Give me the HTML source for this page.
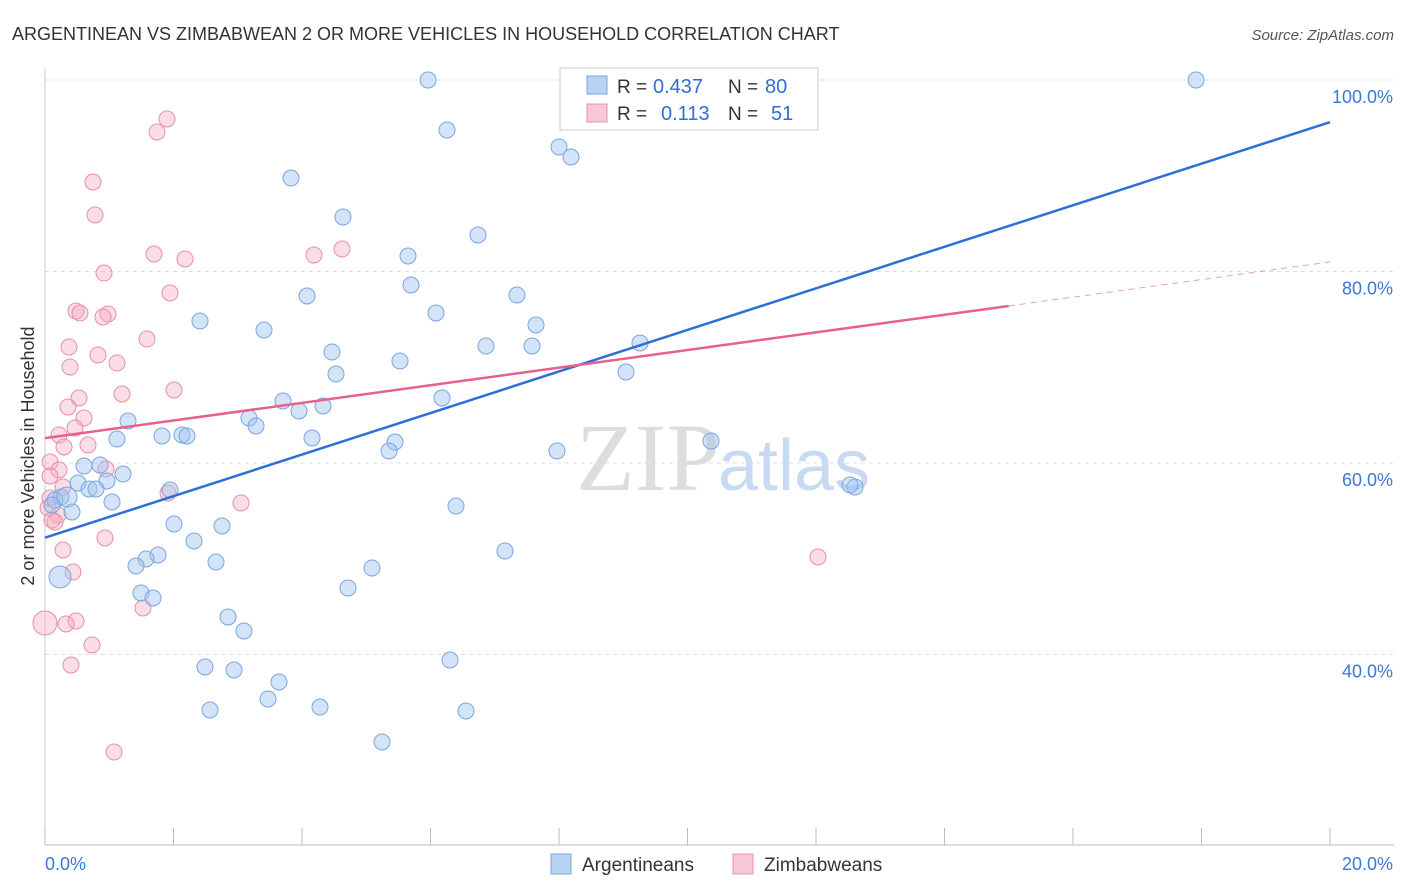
<!DOCTYPE html>
<html><head><meta charset="utf-8">
<style>
body{margin:0;background:#fff;font-family:"Liberation Sans",sans-serif;}
svg{display:block}
</style></head>
<body>
<svg id="chart" width="1406" height="892">
<text x="12" y="40" font-size="18" fill="#333">ARGENTINEAN VS ZIMBABWEAN 2 OR MORE VEHICLES IN HOUSEHOLD CORRELATION CHART</text>
<text x="1394" y="40" font-size="15" fill="#555" font-style="italic" text-anchor="end">Source: ZipAtlas.com</text>
<g id="grid"></g>
<text x="720" y="490" font-size="96" font-family="Liberation Serif,serif" fill="#ddd" text-anchor="end">ZIP</text>
<text x="718" y="490" font-size="72" fill="#c8daf2">atlas</text>
<g id="pts"></g>
<g id="lines"></g>
<text x="34" y="456" font-size="18" fill="#333" text-anchor="middle" transform="rotate(-90 34 456)">2 or more Vehicles in Household</text>
<g>
<rect x="560" y="68" width="258" height="62" fill="#fff" stroke="#ccc"/>
<rect x="587" y="76" width="20" height="18" fill="#b8d2f4" stroke="#7aa6e0"/>
<rect x="587" y="104" width="20" height="18" fill="#f8c8d6" stroke="#e890a8"/>
<text x="617" y="93" font-size="19" fill="#333">R =</text>
<text x="653" y="93" font-size="20" fill="#2e6fd4">0.437</text>
<text x="728" y="93" font-size="19" fill="#333">N =</text>
<text x="765" y="93" font-size="20" fill="#2e6fd4">80</text>
<text x="617" y="120" font-size="19" fill="#333">R =</text>
<text x="661" y="120" font-size="20" fill="#2e6fd4">0.113</text>
<text x="728" y="120" font-size="19" fill="#333">N =</text>
<text x="771" y="120" font-size="20" fill="#2e6fd4">51</text>
</g>
<g>
<rect x="551" y="854" width="20" height="20" fill="#b8d2f4" stroke="#7aa6e0"/>
<text x="582" y="871" font-size="19" fill="#333">Argentineans</text>
<rect x="733" y="854" width="20" height="20" fill="#f8c8d6" stroke="#e890a8"/>
<text x="764" y="871" font-size="19" fill="#333">Zimbabweans</text>
</g>
</svg>
<script>
const yTicks=[40,60,80,100];
const xTickLabels=["0.0%","20.0%"];
const blueX=[428,1196,447,559,571,291,343,478,408,411,307,517,200,436,536,264,486,532,640,332,400,336,626,442,283,299,323,128,249,256,117,162,182,187,312,395,389,711,557,84,100,123,107,78,89,96,61,55,52,112,170,72,456,174,222,194,505,158,146,136,216,372,60,348,141,153,228,244,450,205,234,279,268,210,320,466,382,855,850,67].map(p=>(p-45)/64.25);
const blueY=[80,80,130,147,157,178,217,235,256,285,296,295,321,313,325,330,346,346,343,352,361,374,372,398,401,411,406,421,418,426,439,436,435,436,438,442,451,441,451,466,465,474,481,483,489,489,497,500,505,502,490,512,506,524,526,541,551,555,559,566,562,568,577,588,593,598,617,631,660,667,670,682,699,710,707,711,742,487,485,497].map(p=>100-(p-80)/9.575);
const pinkX=[167,157,93,95,154,185,104,314,342,170,76,80,108,103,147,69,98,117,70,174,122,79,68,84,75,59,88,64,50,59,106,50,63,168,241,48,58,52,55,105,63,818,73,143,76,66,45,92,71,114,50].map(p=>(p-45)/64.25);
const pinkY=[119,132,182,215,254,259,273,255,249,293,311,313,314,317,339,347,355,363,367,390,394,398,407,418,428,435,445,447,462,470,469,476,487,493,503,508,515,520,522,538,550,557,572,608,621,624,623,645,665,752,498].map(p=>100-(p-80)/9.575);
const blueLine=[52.2,95.6];
const pinkLine=[62.6,81.0];
const X=v=>45+v*64.25, Y=v=>80+(100-v)*9.575;
const NS="http://www.w3.org/2000/svg";
function mk(t,a,p){const e=document.createElementNS(NS,t);for(const k in a)e.setAttribute(k,a[k]);p.appendChild(e);return e;}
const g=document.getElementById('grid');
yTicks.forEach(v=>{
 const l=mk('line',{x1:45,x2:1394,y1:Y(v),y2:Y(v),stroke:'#ddd','stroke-dasharray':'4,4'},g);
 
 
 const t=mk('text',{x:1393,y:Y(v)+23,'font-size':18,fill:'#3a78d8','text-anchor':'end'},g);
 t.textContent=v.toFixed(1)+'%';
 
 
});
mk('line',{x1:45,x2:1394,y1:845,y2:845,stroke:'#bbb'},g);
mk('line',{x1:45,x2:45,y1:68,y2:845,stroke:'#ccc'},g);
for(let i=0;i<=10;i++){mk('line',{x1:X(i*2),x2:X(i*2),y1:828,y2:845,stroke:'#bbb'},g);}
const xl1=mk('text',{x:45,y:870,'font-size':18,fill:'#3a78d8'},g);xl1.textContent=xTickLabels[0];


const xl2=mk('text',{x:1393,y:870,'font-size':18,fill:'#3a78d8','text-anchor':'end'},g);xl2.textContent=xTickLabels[1];


const pg=document.getElementById('pts');
pinkX.forEach((x,i)=>{const c=mk('circle',{cx:X(x),cy:Y(pinkY[i]),r:i==46?12:8,fill:'rgba(245,170,195,0.4)',stroke:'#e890a8','stroke-width':1},pg);
 
 });
blueX.forEach((x,i)=>{const c=mk('circle',{cx:X(x),cy:Y(blueY[i]),r:i==62?11:(i==79?10:8),fill:'rgba(160,195,240,0.45)',stroke:'#7aa6e0','stroke-width':1},pg);
 
 });
const lg=document.getElementById('lines');
const bl=mk('line',{x1:X(0),y1:Y(blueLine[0]),x2:X(20),y2:Y(blueLine[1]),stroke:'#2e6fd4','stroke-width':2.5},lg);


const xm=15;const pm=pinkLine[0]+(pinkLine[1]-pinkLine[0])*xm/20;
const pl=mk('line',{x1:X(0),y1:Y(pinkLine[0]),x2:X(xm),y2:Y(pm),stroke:'#e8608e','stroke-width':2.5},lg);


const pd=mk('line',{x1:X(xm),y1:Y(pm),x2:X(20),y2:Y(pinkLine[1]),stroke:'#e8a0b8','stroke-width':1,'stroke-dasharray':'6,5'},lg);


</script>
</body></html>
